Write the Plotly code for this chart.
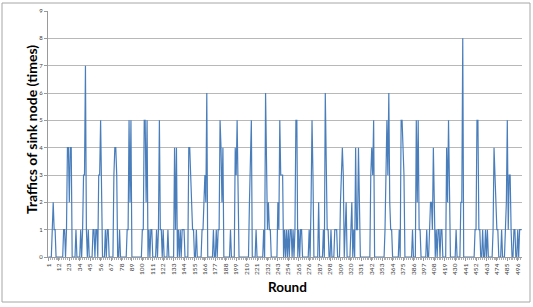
import plotly.graph_objects as go

# Traffic of sink node per round (rounds 1..500)
traffic_001_100 = [
    0, 0, 0, 0, 1, 2, 1, 1, 0, 0,
    0, 0, 0, 0, 0, 0, 1, 1, 0, 1,
    4, 4, 2, 4, 4, 0, 0, 0, 0, 1,
    0, 0, 0, 0, 1, 0, 1, 3, 3, 7,
    1, 0, 1, 0, 0, 0, 0, 1, 1, 0,
    1, 1, 0, 3, 3, 5, 1, 0, 0, 0,
    1, 0, 1, 1, 0, 0, 0, 0, 0, 3,
    4, 4, 3, 0, 0, 1, 0, 0, 0, 0,
    0, 0, 0, 1, 1, 5, 2, 5, 0, 0,
    0, 0, 0, 0, 0, 0, 0, 0, 0, 1,
]
traffic_101_200 = [
    1, 5, 5, 2, 5, 0, 1, 0, 1, 1,
    0, 0, 0, 0, 1, 0, 1, 5, 1, 1,
    0, 1, 0, 0, 0, 0, 1, 0, 0, 0,
    0, 0, 0, 4, 1, 4, 0, 1, 0, 1,
    0, 1, 1, 1, 0, 0, 0, 0, 4, 4,
    3, 2, 1, 1, 0, 0, 1, 0, 0, 0,
    0, 0, 1, 1, 2, 3, 2, 6, 0, 0,
    0, 0, 0, 0, 1, 0, 0, 1, 0, 1,
    1, 5, 4, 2, 4, 0, 0, 0, 0, 0,
    0, 0, 1, 0, 0, 0, 0, 4, 3, 5,
]
traffic_201_300 = [
    2, 0, 0, 0, 0, 0, 0, 0, 0, 0,
    0, 0, 2, 4, 5, 0, 0, 0, 0, 1,
    0, 0, 0, 0, 0, 0, 0, 1, 0, 6,
    4, 1, 2, 1, 1, 0, 0, 0, 0, 0,
    0, 0, 2, 1, 5, 3, 3, 3, 0, 1,
    0, 1, 0, 1, 0, 1, 1, 0, 1, 0,
    1, 5, 5, 0, 1, 0, 1, 1, 0, 0,
    0, 0, 0, 0, 0, 1, 0, 2, 5, 3,
    0, 0, 0, 0, 0, 2, 0, 0, 0, 0,
    1, 0, 6, 3, 1, 1, 0, 0, 1, 0,
]
traffic_301_400 = [
    0, 0, 1, 1, 1, 0, 0, 0, 2, 3,
    4, 3, 0, 1, 2, 0, 0, 0, 0, 1,
    2, 0, 1, 0, 4, 1, 1, 4, 1, 0,
    0, 0, 0, 0, 0, 0, 0, 0, 0, 0,
    3, 4, 3, 5, 0, 0, 0, 0, 0, 0,
    0, 0, 0, 0, 0, 1, 3, 5, 3, 6,
    2, 1, 1, 0, 0, 0, 0, 0, 0, 0,
    1, 0, 5, 5, 4, 3, 0, 0, 0, 0,
    0, 0, 0, 0, 1, 0, 0, 0, 5, 2,
    5, 1, 1, 0, 0, 0, 0, 0, 0, 1,
]
traffic_401_500 = [
    0, 0, 1, 2, 2, 1, 4, 1, 0, 1,
    0, 1, 1, 0, 1, 1, 0, 0, 0, 0,
    4, 2, 5, 1, 0, 0, 0, 0, 0, 0,
    1, 0, 0, 0, 0, 2, 2, 8, 0, 0,
    0, 0, 0, 0, 0, 0, 0, 0, 0, 0,
    1, 1, 5, 5, 1, 1, 0, 0, 1, 0,
    0, 1, 0, 1, 0, 0, 0, 0, 0, 1,
    4, 3, 2, 1, 1, 0, 0, 0, 1, 0,
    0, 0, 1, 2, 5, 1, 3, 3, 1, 0,
    0, 1, 1, 0, 0, 1, 0, 1, 1, 1,
]
traffic = traffic_001_100 + traffic_101_200 + traffic_201_300 + traffic_301_400 + traffic_401_500
rounds = list(range(1, len(traffic) + 1))

tick_rounds = list(range(1, 500, 11))
tick_labels = [str(t) for t in tick_rounds]
y_ticks = list(range(0, 10))

y_title = "Traffics of sink node (times)"
x_title = "Round"

W, H = 533, 307
L, R, T, B = 48, 11, 11, 50
PW, PH = W - L - R, H - T - B

fig = go.Figure()
fig.add_trace(go.Scatter(
    x=rounds, y=traffic, mode="lines",
    line=dict(color="#4a7ebb", width=1.2),
    hoverinfo="x+y", showlegend=False,
))

fig.update_layout(
    width=W, height=H,
    autosize=False,
    margin=dict(l=L, r=R, t=T, b=B, pad=0, autoexpand=False),
    paper_bgcolor="white", plot_bgcolor="white",
    font=dict(family="Lato, Liberation Sans, sans-serif", color="#333333"),
    xaxis=dict(
        automargin=False,
        range=[0.5, len(traffic) + 0.5],
        tickmode="array", tickvals=tick_rounds, ticktext=tick_labels,
        tickangle=-90, tickfont=dict(size=6.5, color="#404040"),
        ticks="outside", ticklen=3, tickcolor="#9a9a9a",
        minor=dict(ticks="outside", dtick=2, tick0=1, ticklen=2, tickcolor="#b0b0b0"),
        showline=True, linecolor="#9a9a9a", linewidth=1,
        showgrid=False, zeroline=False,
    ),
    yaxis=dict(
        automargin=False,
        range=[0, 9], tickvals=y_ticks,
        tickfont=dict(size=6, color="#404040"),
        ticks="outside", ticklen=3, tickcolor="#9a9a9a",
        showline=True, linecolor="#9a9a9a", linewidth=1,
        showgrid=True, gridcolor="#b8b8b8", gridwidth=1,
        zeroline=False,
    ),
    shapes=[dict(
        type="rect", xref="paper", yref="paper",
        x0=(2 - L) / PW, x1=(530 - L) / PW,
        y0=(T + PH - 302) / PH, y1=(T + PH - 3) / PH,
        line=dict(color="#a6a6a6", width=1), fillcolor="rgba(0,0,0,0)", layer="above",
    )],
    annotations=[
        dict(text=y_title, xref="paper", yref="paper",
             x=(31 - L) / PW, y=(T + PH - 130) / PH, textangle=-90,
             showarrow=False, xanchor="center", yanchor="middle",
             font=dict(size=14, color="#000000", family="Lato, sans-serif", weight="bold")),
        dict(text=x_title, xref="paper", yref="paper",
             x=(287 - L) / PW, y=(T + PH - 287) / PH,
             showarrow=False, xanchor="center", yanchor="middle",
             font=dict(size=13.5, color="#000000", family="Lato, sans-serif", weight="bold")),
    ],
)

fig.write_html(
    "out.html",
    config={"displayModeBar": False},
    post_script="document.body.style.margin='0';document.body.style.overflow='hidden';",
)
